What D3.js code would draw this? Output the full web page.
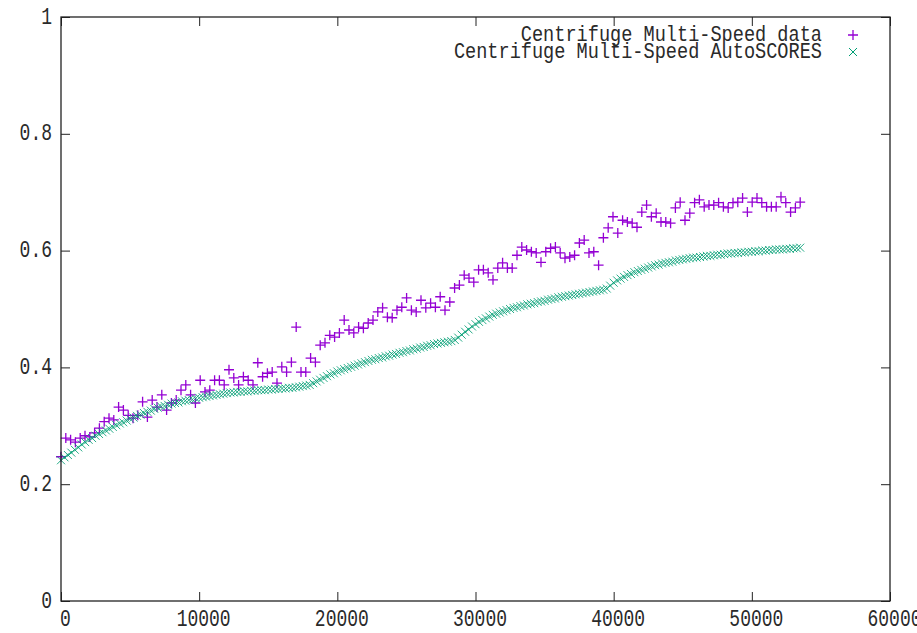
<!DOCTYPE html>
<html><head><meta charset="utf-8">
<script src="https://cdn.jsdelivr.net/npm/d3@7/dist/d3.min.js"></script>
<style>
body{margin:0;background:#fff;overflow:hidden}
text{font-family:"Liberation Mono","DejaVu Sans Mono",monospace;fill:#2a2a2a}
</style>
</head><body>
<svg id="chart" width="917" height="633"></svg>
<script>
// ---- data ----
const xTicks = [0, 10000, 20000, 30000, 40000, 50000, 60000];
const xTickLabels = ["0", "10000", "20000", "30000", "40000", "50000", "60000"];
const yTicks = [0, 0.2, 0.4, 0.6, 0.8, 1];
const yTickLabels = ["0", "0.2", "0.4", "0.6", "0.8", "1"];
const seriesNames = ["Centrifuge Multi-Speed data", "Centrifuge Multi-Speed AutoSCORES"];

// measured data (purple +), sampled every dataStep time units
const dataStep = 347.4;
const dataY = [
  0.247,0.279,0.276,0.272,0.279,0.283,0.281,0.288,0.296,0.307,
  0.313,0.310,0.332,0.327,0.318,0.313,0.318,0.341,0.315,0.344,
  0.332,0.353,0.327,0.339,0.344,0.361,0.370,0.353,0.339,0.378,
  0.358,0.361,0.378,0.378,0.370,0.396,0.382,0.370,0.384,0.378,
  0.370,0.408,0.384,0.390,0.392,0.373,0.401,0.392,0.409,0.469,
  0.392,0.392,0.416,0.409,0.438,0.442,0.455,0.452,0.459,0.481,
  0.464,0.459,0.469,0.467,0.476,0.481,0.495,0.502,0.486,0.485,
  0.498,0.503,0.519,0.498,0.495,0.515,0.502,0.510,0.503,0.521,
  0.498,0.512,0.536,0.541,0.558,0.553,0.546,0.567,0.567,0.562,
  0.550,0.570,0.579,0.570,0.570,0.592,0.606,0.601,0.598,0.596,
  0.580,0.598,0.604,0.606,0.596,0.587,0.589,0.592,0.613,0.618,
  0.596,0.598,0.575,0.622,0.639,0.658,0.630,0.652,0.649,0.647,
  0.640,0.666,0.678,0.658,0.664,0.649,0.649,0.647,0.673,0.683,
  0.652,0.664,0.682,0.687,0.675,0.678,0.678,0.682,0.675,0.673,
  0.682,0.683,0.690,0.666,0.683,0.690,0.682,0.675,0.675,0.675,
  0.692,0.682,0.666,0.673,0.683
];

// AutoSCORES model (teal x), sampled every scoresStep time units
const scoresStep = 250;
const scoresY = [
  // 0 .. 18000
  0.241,0.246,0.250,0.254,0.259,0.263,0.268,0.272,0.276,0.279,
  0.283,0.286,0.289,0.292,0.295,0.298,0.301,0.304,0.306,0.309,
  0.312,0.314,0.317,0.319,0.322,0.324,0.326,0.329,0.331,0.333,
  0.334,0.336,0.338,0.339,0.340,0.342,0.343,0.344,0.345,0.347,
  0.348,0.349,0.350,0.351,0.352,0.353,0.354,0.355,0.356,0.357,
  0.357,0.358,0.358,0.359,0.359,0.360,0.360,0.361,0.361,0.361,
  0.362,0.362,0.363,0.363,0.364,0.364,0.365,0.365,0.366,0.367,
  0.368,0.369,0.370,
  // 18250 .. 28500
  0.373,0.376,0.379,0.382,0.385,0.388,0.390,0.393,0.395,0.397,
  0.399,0.401,0.403,0.405,0.407,0.409,0.411,0.413,0.414,0.416,
  0.417,0.419,0.420,0.422,0.423,0.425,0.426,0.428,0.429,0.431,
  0.432,0.434,0.435,0.437,0.438,0.440,0.441,0.442,0.443,0.444,
  0.445,0.447,
  // 28750 .. 39500
  0.451,0.456,0.461,0.465,0.470,0.474,0.478,0.481,0.484,0.487,
  0.490,0.492,0.494,0.496,0.498,0.500,0.502,0.503,0.505,0.506,
  0.508,0.509,0.510,0.512,0.513,0.514,0.516,0.517,0.518,0.520,
  0.521,0.522,0.523,0.524,0.525,0.526,0.527,0.528,0.529,0.530,
  0.531,0.532,0.533,0.535,
  // 39750 .. 53500
  0.540,0.545,0.549,0.552,0.555,0.558,0.560,0.563,0.565,0.567,
  0.569,0.571,0.573,0.575,0.576,0.578,0.579,0.580,0.581,0.583,
  0.584,0.585,0.586,0.587,0.588,0.588,0.589,0.590,0.591,0.591,
  0.592,0.593,0.593,0.594,0.595,0.595,0.596,0.596,0.597,0.597,
  0.598,0.598,0.599,0.599,0.600,0.600,0.601,0.601,0.602,0.602,
  0.602,0.603,0.603,0.604,0.604,0.605
];

const colors = ["#9400d3", "#009e73"];

(function draw() {
  const m = {left: 61, right: 890, top: 17, bottom: 601};
  const svg = d3.select("#chart");
  const x = d3.scaleLinear().domain([0, 60000]).range([m.left, m.right]);
  const y = d3.scaleLinear().domain([0, 1]).range([m.bottom, m.top]);

  const dataPts = dataY.map((v, i) => [i * dataStep, v]);
  const scorePts = scoresY.map((v, i) => [i * scoresStep, v]);

  const plusPath = "M-5,0H5M0,-5V5";
  const crossPath = "M-4,-4L4,4M-4,4L4,-4";

  svg.append("g").selectAll("path").data(dataPts).join("path")
    .attr("d", plusPath)
    .attr("transform", d => `translate(${x(d[0])},${y(d[1])})`)
    .attr("fill", "none").attr("stroke", colors[0]).attr("stroke-width", 1.3);

  svg.append("g").selectAll("path").data(scorePts).join("path")
    .attr("d", crossPath)
    .attr("transform", d => `translate(${x(d[0])},${y(d[1])})`)
    .attr("fill", "none").attr("stroke", colors[1]).attr("stroke-width", 1)
    .attr("stroke-opacity", 0.85);

  const TS = 9, SY = 1.3;
  function styleAxis(g) {
    g.select(".domain").remove();
    g.selectAll(".tick line").attr("stroke", "#222").attr("stroke-width", 1);
  }
  const axB = svg.append("g").attr("transform", `translate(0,${m.bottom})`)
    .call(d3.axisBottom(x).tickValues(xTicks).tickFormat((d, i) => xTickLabels[i]).tickSize(-TS).tickSizeOuter(0));
  styleAxis(axB);
  axB.selectAll(".tick text")
    .attr("y", null).attr("dy", null).attr("x", null)
    .attr("dominant-baseline", "central")
    .attr("font-size", 18)
    .attr("transform", `translate(4,19) scale(1,${SY})`);

  const axL = svg.append("g").attr("transform", `translate(${m.left},0)`)
    .call(d3.axisLeft(y).tickValues(yTicks).tickFormat((d, i) => yTickLabels[i]).tickSize(-TS).tickSizeOuter(0));
  styleAxis(axL);
  axL.selectAll(".tick text")
    .attr("x", null).attr("dy", null)
    .attr("dominant-baseline", "central")
    .attr("text-anchor", "end")
    .attr("font-size", 18)
    .attr("transform", `translate(-9,0) scale(1,${SY})`);

  const axT = svg.append("g").attr("transform", `translate(0,${m.top})`)
    .call(d3.axisTop(x).tickValues(xTicks).tickFormat("").tickSize(-TS).tickSizeOuter(0));
  styleAxis(axT);
  const axR = svg.append("g").attr("transform", `translate(${m.right},0)`)
    .call(d3.axisRight(y).tickValues(yTicks).tickFormat("").tickSize(-TS).tickSizeOuter(0));
  styleAxis(axR);

  svg.selectAll(".tick text").attr("font-family", null).style("fill", "#2a2a2a");

  svg.append("rect")
    .attr("x", m.left).attr("y", m.top)
    .attr("width", m.right - m.left).attr("height", m.bottom - m.top)
    .attr("fill", "none").attr("stroke", "#222").attr("stroke-width", 1.3);

  const legY = [35, 52];
  const lg = svg.append("g");
  seriesNames.forEach((name, i) => {
    lg.append("text")
      .attr("dominant-baseline", "central")
      .attr("text-anchor", "end")
      .attr("font-size", 18.6)
      .attr("transform", `translate(822,${legY[i]}) scale(1,1.2)`)
      .text(name);
    lg.append("path")
      .attr("d", i === 0 ? plusPath : crossPath)
      .attr("transform", `translate(853,${legY[i]})`)
      .attr("fill", "none").attr("stroke", colors[i]).attr("stroke-width", i === 0 ? 1.3 : 1);
  });
})();
</script>
</body></html>
